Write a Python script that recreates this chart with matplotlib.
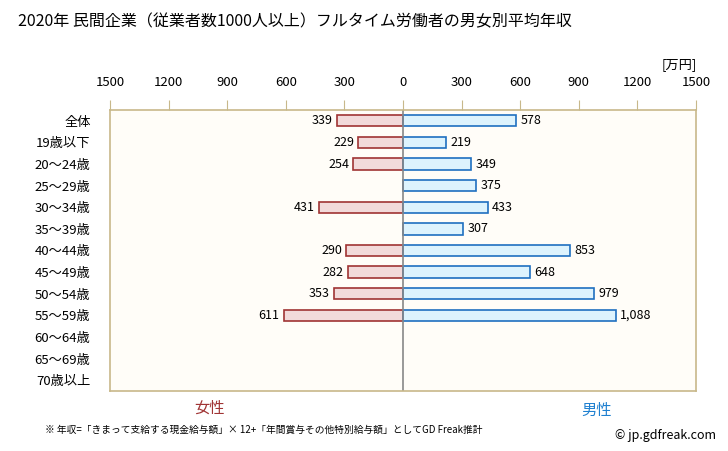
import numpy as np
import matplotlib
matplotlib.use("Agg")
import matplotlib.pyplot as plt

plt.rcParams['font.family'] = ['Noto Sans CJK JP', 'DejaVu Sans']

categories = ['全体', '19歳以下', '20～24歳', '25～29歳', '30～34歳', '35～39歳',
              '40～44歳', '45～49歳', '50～54歳', '55～59歳', '60～64歳', '65～69歳', '70歳以上']
female = [339, 229, 254, None, 431, None, 290, 282, 353, 611, None, None, None]
male = [578, 219, 349, 375, 433, 307, 853, 648, 979, 1088, None, None, None]
ticks = [-1500, -1200, -900, -600, -300, 0, 300, 600, 900, 1200, 1500]

fig = plt.figure(figsize=(7.28, 4.51), dpi=100)
ax = fig.add_axes([110/728, 1-391/451, 586/728, 281/451])
ax.set_facecolor('#FFFDF8')

y = np.arange(len(categories))
for i, v in enumerate(female):
   if v is None:
      continue
   ax.barh(y[i], -v, height=0.52, color='#F2DADA', edgecolor='#A03434', linewidth=1.2)
   ax.text(-v - 22, y[i], f"{v:,}", ha='right', va='center', fontsize=9)
for i, v in enumerate(male):
   if v is None:
      continue
   ax.barh(y[i], v, height=0.52, color='#DDF3FD', edgecolor='#1F70C0', linewidth=1.2)
   ax.text(v + 22, y[i], f"{v:,}", ha='left', va='center', fontsize=9)

ax.axvline(0, color='#888888', linewidth=1.2)
ax.set_xlim(-1500, 1500)
ax.set_ylim(len(categories) - 0.5, -0.5)
ax.set_xticks(ticks)
ax.set_xticklabels([str(abs(t)) for t in ticks], fontsize=9.5)
ax.xaxis.tick_top()
ax.tick_params(axis='x', direction='out', length=7, color='#C8B88A', pad=8)
ax.set_yticks(y)
ax.set_yticklabels(categories, fontsize=9.5)
ax.tick_params(axis='y', length=0, pad=14)
for s in ax.spines.values():
   s.set_color('#C8B88A')
   s.set_linewidth(1.2)

fig.text(18/728, 1-22/451, '2020年 民間企業（従業者数1000人以上）フルタイム労働者の男女別平均年収',
         fontsize=11.5, va='center', ha='left')
fig.text(697/728, 1-65/451, '[万円]', fontsize=9.5, ha='right', va='center')
fig.text(210/728, 1-408/451, '女性', fontsize=11, color='#A03434', ha='center', va='center')
fig.text(597/728, 1-410/451, '男性', fontsize=11, color='#1F80D0', ha='center', va='center')
fig.text(45/728, 1-430/451, '※ 年収=「きまって支給する現金給与額」× 12+「年間賞与その他特別給与額」としてGD Freak推計',
         fontsize=7, ha='left', va='center')
fig.text(716/728, 1-435/451, '© jp.gdfreak.com', fontsize=9, ha='right', va='center')

fig.savefig('out.png', dpi=100)
